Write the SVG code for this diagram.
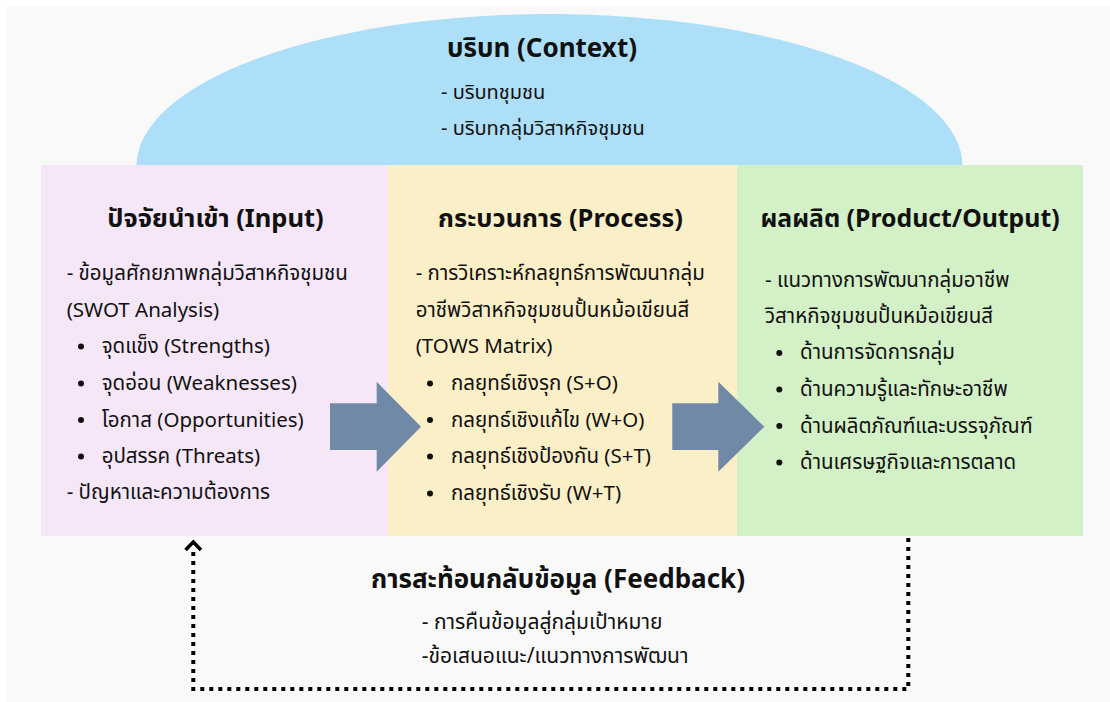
<svg xmlns="http://www.w3.org/2000/svg" width="1110" height="702" viewBox="0 0 1110 702">
<style>
  .title { font-family: "Noto Sans", "Noto Sans Thai", "Open Sans", sans-serif; font-weight: bold; font-size: 25.5px; fill: #111; text-anchor: middle; }
  .item { font-family: "Noto Sans", "Noto Sans Thai", "Open Sans", sans-serif; font-size: 20.5px; fill: #111; }
  .ctitle { font-family: "Noto Sans", "Noto Sans Thai", sans-serif; font-weight: bold; font-size: 26px; fill: #111; text-anchor: middle; }
  .citem { font-family: "Noto Sans", "Noto Sans Thai", sans-serif; font-size: 20px; fill: #111; }
  .fitem { font-family: "Noto Sans", "Noto Sans Thai", sans-serif; font-size: 21px; fill: #111; }
  .arrow { fill: #7089a6; }
  .dots { fill: none; stroke: #000; stroke-width: 4; stroke-dasharray: 4 5; }
</style>
<rect x="0" y="0" width="1110" height="702" fill="#ffffff"/>
<rect x="7" y="6" width="1103" height="696" fill="#f9f9f9"/>

<g id="context">
  <ellipse cx="549.5" cy="166" rx="413" ry="152" fill="#addff8"/>
  <text class="ctitle" x="542" y="57">บริบท (Context)</text>
  <text class="citem" x="441" y="99">- บริบทชุมชน</text>
  <text class="citem" x="441" y="135">- บริบทกลุ่มวิสาหกิจชุมชน</text>
</g>

<g id="input">
  <rect x="41" y="165" width="347" height="371" fill="#f5e6f8"/>
  <text class="title" x="215.5" y="227">ปัจจัยนำเข้า (Input)</text>
  <text class="item" x="66.7" y="280">- ข้อมูลศักยภาพกลุ่มวิสาหกิจชุมชน</text>
  <text class="item" x="66.7" y="316.7">(SWOT Analysis)</text>
  <g>
    <circle cx="81" cy="346.5" r="3" fill="#111"/>
    <circle cx="81" cy="383.5" r="3" fill="#111"/>
    <circle cx="81" cy="420" r="3" fill="#111"/>
    <circle cx="81" cy="456.5" r="3" fill="#111"/>
  </g>
  <text class="item" x="101.7" y="353.3">จุดแข็ง (Strengths)</text>
  <text class="item" x="101.7" y="390">จุดอ่อน (Weaknesses)</text>
  <text class="item" x="101.7" y="426.7">โอกาส (Opportunities)</text>
  <text class="item" x="101.7" y="463.3">อุปสรรค (Threats)</text>
  <text class="item" x="66.7" y="499.3">- ปัญหาและความต้องการ</text>
</g>

<g id="process">
  <rect x="388" y="165" width="349" height="371" fill="#fbefc7"/>
  <text class="title" x="560.5" y="227">กระบวนการ (Process)</text>
  <text class="item" x="415.7" y="280">- การวิเคราะห์กลยุทธ์การพัฒนากลุ่ม</text>
  <text class="item" x="415.7" y="316.7">อาชีพวิสาหกิจชุมชนปั้นหม้อเขียนสี</text>
  <text class="item" x="415.7" y="353.3">(TOWS Matrix)</text>
  <g>
    <circle cx="430" cy="383.5" r="3" fill="#111"/>
    <circle cx="430" cy="420" r="3" fill="#111"/>
    <circle cx="430" cy="456.5" r="3" fill="#111"/>
    <circle cx="430" cy="493.5" r="3" fill="#111"/>
  </g>
  <text class="item" x="451" y="390">กลยุทธ์เชิงรุก (S+O)</text>
  <text class="item" x="451" y="426.7">กลยุทธ์เชิงแก้ไข (W+O)</text>
  <text class="item" x="451" y="463.3">กลยุทธ์เชิงป้องกัน (S+T)</text>
  <text class="item" x="451" y="500">กลยุทธ์เชิงรับ (W+T)</text>
</g>

<g id="output">
  <rect x="737" y="165" width="346" height="371" fill="#d3f0c7"/>
  <text class="title" x="910" y="227" style="font-size:24.8px">ผลผลิต (Product/Output)</text>
  <text class="item" x="765" y="286.7">- แนวทางการพัฒนากลุ่มอาชีพ</text>
  <text class="item" x="765" y="323.3">วิสาหกิจชุมชนปั้นหม้อเขียนสี</text>
  <g>
    <circle cx="779.3" cy="353" r="3" fill="#111"/>
    <circle cx="779.3" cy="389.5" r="3" fill="#111"/>
    <circle cx="779.3" cy="426" r="3" fill="#111"/>
    <circle cx="779.3" cy="462.5" r="3" fill="#111"/>
  </g>
  <text class="item" x="800" y="359.3">ด้านการจัดการกลุ่ม</text>
  <text class="item" x="800" y="396">ด้านความรู้และทักษะอาชีพ</text>
  <text class="item" x="800" y="432.7">ด้านผลิตภัณฑ์และบรรจุภัณฑ์</text>
  <text class="item" x="800" y="469.3">ด้านเศรษฐกิจและการตลาด</text>
</g>

<g id="feedback">
  <text class="ctitle" x="558" y="588">การสะท้อนกลับข้อมูล (Feedback)</text>
  <text class="fitem" x="421.7" y="629">- การคืนข้อมูลสู่กลุ่มเป้าหมาย</text>
  <text class="fitem" x="421.7" y="663.3">-ข้อเสนอแนะ/แนวทางการพัฒนา</text>
</g>

<g id="connectors">
  <path class="arrow" d="M330,403.3 H376.7 V381.7 L421,426.7 L376.7,471.7 V450 H330 Z"/>
  <path class="arrow" d="M672.3,403.3 H718.3 V381.7 L764.3,426.7 L718.3,471.7 V450 H672.3 Z"/>
  <path class="dots" d="M908.3,538 V689 H193.3 V548"/>
  <path d="M185.5,550 L193.3,542 L201,550" fill="none" stroke="#000" stroke-width="3.6" stroke-linejoin="miter"/>
</g>
</svg>
